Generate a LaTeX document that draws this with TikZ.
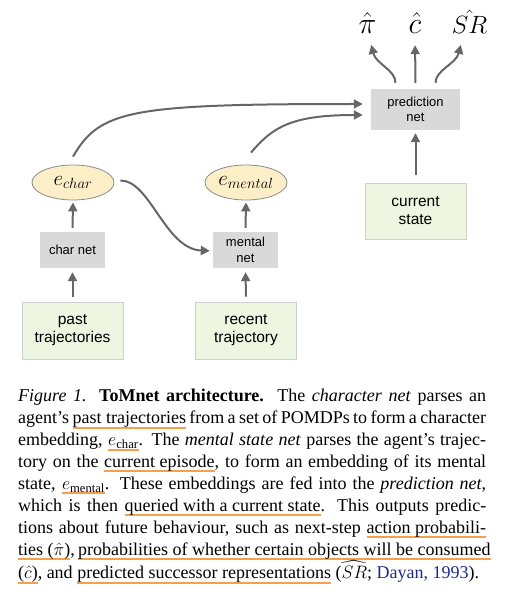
\RequirePackage{fix-cm}
\documentclass[tikz,border=0pt]{standalone}
\usepackage{fontspec}
\setmainfont{Liberation Serif}
\newfontfamily\dsf{Liberation Sans}
\usepackage{amsmath}
\usetikzlibrary{arrows.meta,shapes.geometric}
\definecolor{arr}{HTML}{666666}
\definecolor{netfill}{HTML}{D9D9D9}
\definecolor{infill}{HTML}{EEF6E2}
\definecolor{inborder}{HTML}{D0D0D0}
\definecolor{embfill}{HTML}{FCEFC8}
\definecolor{embborder}{HTML}{8A8A8A}
\definecolor{ulc}{HTML}{F6A04D}
\definecolor{citec}{HTML}{1E2A8C}
\newcommand\oul[1]{\leavevmode\setbox0=\hbox{#1}\rlap{\color{ulc}\rule[-5pt]{\wd0}{2pt}}\box0\relax}
\begin{document}
\begin{tikzpicture}[x=1pt,y=-1pt,
  netbox/.style={fill=netfill, draw=none, align=center, inner sep=0,
    font=\dsf\fontsize{13}{15.5}\selectfont},
  inbox/.style={fill=infill, draw=inborder, line width=0.8pt, align=center, inner sep=0,
    font=\dsf\fontsize{15.5}{18}\selectfont},
  emb/.style={ellipse, fill=embfill, draw=embborder, line width=0.8pt, inner sep=0,
    minimum width=82pt, minimum height=35pt, font=\fontsize{21}{24}\selectfont},
  outlbl/.style={anchor=base, inner sep=0, font=\fontsize{30}{34}\selectfont},
  conn/.style={draw=arr, line width=2pt, -{Triangle[length=9pt,width=9pt]}, fill=none}]
\path[use as bounding box] (0,0) rectangle (506,596);
% nodes
\node[netbox, minimum width=89pt, minimum height=41pt] (pred) at (415.5,109.5) {prediction\\net};
\node[inbox, minimum width=101pt, minimum height=56pt] (cur) at (415.5,211) {current\\state};
\node[emb] (ec) at (73,182.5) {$e_{char}$};
\node[emb] (em) at (246,182.5) {$e_{mental}$};
\node[netbox, minimum width=65pt, minimum height=36pt] (cn) at (72.5,250) {char net};
\node[netbox, minimum width=65pt, minimum height=36pt] (mn) at (245.5,250) {mental\\net};
\node[inbox, minimum width=101pt, minimum height=57pt] (pt) at (72.5,330.5) {past\\trajectories};
\node[inbox, minimum width=101pt, minimum height=57pt] (rt) at (246,330.5) {recent\\trajectory};
\node[outlbl] (opi) at (367.5,34) {$\hat{\pi}$};
\node[outlbl] (oc) at (415,34) {$\hat{c}$};
\node[outlbl, font=\fontsize{25}{30}\selectfont] (osr) at (469.5,34) {$\hat{SR}$};
% connectors
\draw[conn, shorten <=5pt, shorten >=4pt] (pt.north) -- (cn.south);
\draw[conn, shorten <=5pt, shorten >=4pt] (rt.north) -- (mn.south);
\draw[conn, shorten <=4pt, shorten >=2pt] (cn.north) -- (ec.south);
\draw[conn, shorten <=4pt, shorten >=2pt] (mn.north) -- (em.south);
\draw[conn, shorten <=8pt, shorten >=3pt] (cur.north) -- (pred.south);
\draw[conn, shorten >=3pt] ([xshift=6pt,yshift=2pt]ec.east) .. controls (150,180) and (165,249) .. ([yshift=-1pt]mn.west);
\draw[conn, shorten >=8pt] ([yshift=8pt]ec.north) .. controls (100,110) and (130,104) .. ([yshift=5.5pt]pred.west);
\draw[conn, shorten >=8pt] ([xshift=5pt,yshift=12pt]em.north) .. controls (272,128) and (290,115) .. ([yshift=-5.5pt]pred.west);
\draw[conn, shorten >=11pt] ([xshift=-20pt,yshift=6pt]pred.north) .. controls (395.5,70) and (376,64) .. ([xshift=1pt]opi.south);
\draw[conn, shorten <=6pt, shorten >=11pt] (pred.north) -- (oc.south);
\draw[conn, shorten >=11pt] ([xshift=20pt,yshift=6pt]pred.north) .. controls (435.5,70) and (456,64) .. ([xshift=-6pt]osr.south);
% caption
\node[anchor=base west, text width=468pt, inner sep=0, align=justify,
  font=\fontsize{18}{21.9}\selectfont] (cap) at (18,401.7) {\tolerance=10000\hyphenpenalty=10000%
\textit{Figure 1.} \textbf{ToMnet architecture.}\ \ The \textit{character net} parses an\linebreak
agent's \oul{past trajectories} from a set of POMDPs to form a character\linebreak
embedding, \oul{$e_{\mathrm{char}}$}. The \textit{mental state net} parses the agent's trajec-\linebreak
tory on the \oul{current episode}, to form an embedding of its mental\linebreak
state, \oul{$e_{\mathrm{mental}}$}. These embeddings are fed into the \textit{prediction net},\linebreak
which is then \oul{queried with a current state}. This outputs predic-\linebreak
tions about future behaviour, such as next-step \oul{action probabili-}\linebreak
\oul{ties ($\hat{\pi}$)}, \oul{probabilities of whether certain objects will be consumed}\linebreak
\oul{($\hat{c}$)}, and \oul{predicted successor representations} ($\widehat{SR}$; \textcolor{citec}{Dayan, 1993}).};
\end{tikzpicture}
\end{document}
